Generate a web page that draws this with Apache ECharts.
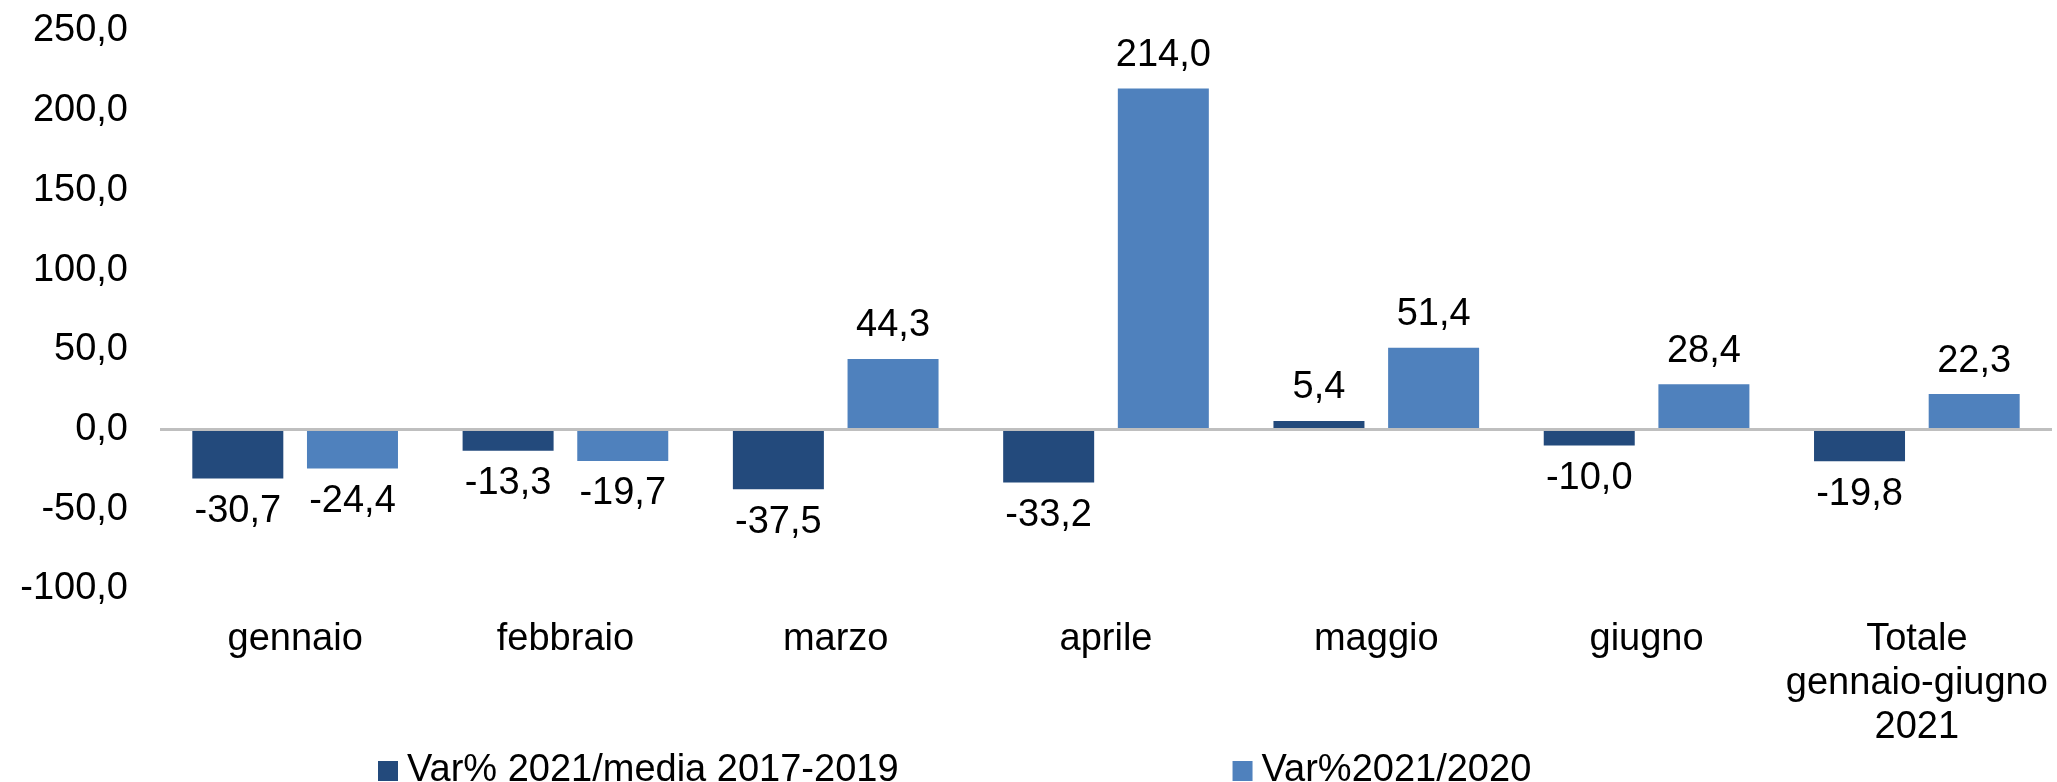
<!DOCTYPE html>
<html>
<head>
<meta charset="utf-8">
<script src="https://cdn.jsdelivr.net/npm/echarts@6/dist/echarts.min.js"></script>
<style>
  html, body { margin: 0; padding: 0; background: #fff; }
  #chart { width: 2057px; height: 782px; }
</style>
</head>
<body>
<div id="chart"></div>
<script>
// categorie (mesi)
var categories = ['gennaio', 'febbraio', 'marzo', 'aprile', 'maggio', 'giugno', 'Totale\ngennaio-giugno\n2021'];
var seriesNames = ['Var% 2021/media 2017-2019', 'Var%2021/2020'];
var varMedia = [-30.7, -13.3, -37.5, -33.2, 5.4, -10.0, -19.8];
var var2020 = [-24.4, -19.7, 44.3, 214.0, 51.4, 28.4, 22.3];
var yTicks = [-100, -50, 0, 50, 100, 150, 200, 250];

var FONT = 'Liberation Sans, Arial, sans-serif';

function fmt(v) {
    return v.toFixed(1).replace('.', ',');
}

// etichette sopra/sotto a seconda del segno
function toData(arr) {
    return arr.map(function (v) {
        return {
            value: v,
            label: { position: v < 0 ? 'bottom' : 'top' }
        };
    });
}

var myChart = echarts.init(document.getElementById('chart'));
var option = {
    backgroundColor: '#ffffff',
    animation: false,
    textStyle: { fontFamily: FONT },
    grid: {
        left: 160,
        right: 5,
        top: 31,
        bottom: 193,
        containLabel: false
    },
    legend: {
        data: seriesNames,
        left: 373,
        top: 747,
        itemWidth: 20,
        itemHeight: 20,
        itemGap: 334,
        icon: 'rect',
        textStyle: {
            fontFamily: FONT,
            fontSize: 38,
            color: '#000',
            padding: [0, 0, 0, 4]
        }
    },
    xAxis: {
        type: 'category',
        data: categories,
        axisLine: { show: false, onZero: false },
        axisTick: { show: false },
        splitLine: { show: false },
        axisLabel: {
            interval: 0,
            margin: 29,
            fontFamily: FONT,
            fontSize: 38,
            lineHeight: 44,
            color: '#000',
            verticalAlign: 'top'
        }
    },
    yAxis: {
        type: 'value',
        min: yTicks[0],
        max: yTicks[yTicks.length - 1],
        interval: 50,
        axisLine: { show: false },
        axisTick: { show: false },
        splitLine: { show: false },
        axisLabel: {
            margin: 32,
            fontFamily: FONT,
            fontSize: 38,
            color: '#000',
            formatter: function (v) { return fmt(v); }
        }
    },
    series: [{
        name: seriesNames[0],
        type: 'bar',
        data: toData(varMedia),
        barWidth: 91,
        barGap: '26%',
        itemStyle: { color: '#234a7c' },
        label: {
            show: true,
            distance: 14,
            fontFamily: FONT,
            fontSize: 38,
            color: '#000',
            formatter: function (p) { return fmt(p.value); }
        },
        markLine: {
            silent: true,
            symbol: ['none', 'none'],
            label: { show: false },
            lineStyle: { color: '#bfbfbf', width: 3, type: 'solid' },
            data: [{ yAxis: 0 }]
        },
        z: 3
    }, {
        name: seriesNames[1],
        type: 'bar',
        data: toData(var2020),
        barWidth: 91,
        itemStyle: { color: '#4f81bd' },
        label: {
            show: true,
            distance: 14,
            fontFamily: FONT,
            fontSize: 38,
            color: '#000',
            formatter: function (p) { return fmt(p.value); }
        },
        z: 3
    }]
};

myChart.setOption(option);
</script>
</body>
</html>
